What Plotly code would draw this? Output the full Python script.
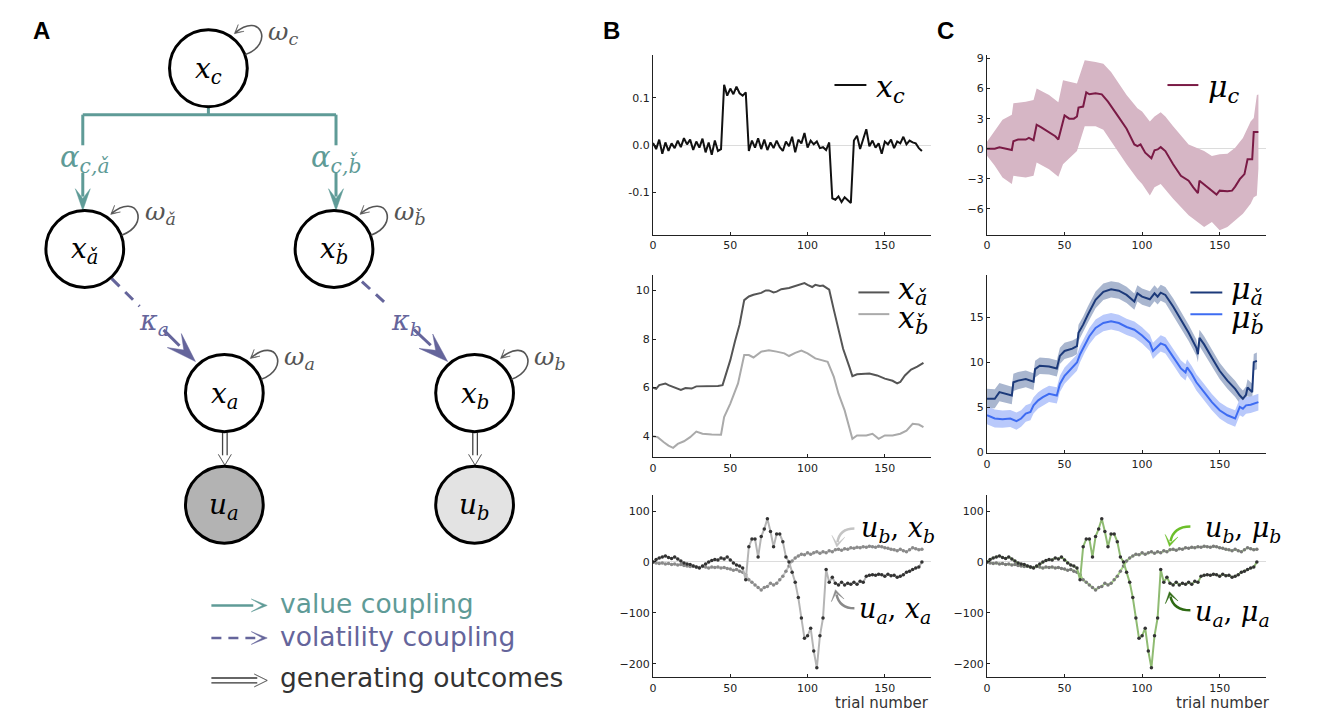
import plotly.graph_objects as go

# page size and body-margin offset of the html page
PAGE_W, PAGE_H = 1320, 722
OFF = 8
FW, FH = PAGE_W - OFF, PAGE_H - OFF

# ---------------- data ----------------
# x_c, sampled every 2 trials (0, 2, ..., 174)
x_c = [0.005, -0.008, 0.012, -0.018, 0.006, -0.012, 0.004, -0.006, 0.010, -0.004,
       0.015, 0.002, 0.012, -0.010, 0.008, -0.005, 0.014, -0.015, 0.006, -0.020,
       0.010, -0.012, -0.008,
       0.128, 0.105, 0.120, 0.108, 0.124, 0.110, 0.105, 0.112,
       -0.012, 0.010, -0.005, 0.015, -0.008, 0.012, -0.010, 0.006, -0.006, 0.010,
       -0.004, -0.012, 0.008, -0.002, 0.018, -0.015, 0.012, 0.004, 0.026, -0.005,
       0.010, 0.002, 0.008, -0.006, -0.004, -0.010, 0.006,
       -0.112, -0.115, -0.108, -0.120, -0.110, -0.116, -0.122,
       0.010, 0.020, -0.008, 0.012, 0.034, -0.002, 0.010, -0.005, 0.004, -0.018,
       0.008, 0.002, 0.012, -0.006, 0.008, 0.004, 0.018, 0.002, 0.010, 0.006,
       0.004, -0.006, -0.012]

t_xa = [0, 2, 4, 6, 8, 10, 12, 15, 18, 21, 25, 28, 30, 34, 38, 42, 45, 48, 50, 53,
        56, 59, 62, 65, 68, 70, 73, 75, 78, 80, 83, 85, 88, 90, 93, 95, 98, 100, 103, 105,
        108, 110, 114, 117, 120, 123, 127, 129, 132, 136, 140, 145, 150, 155, 158, 160, 163, 167, 171, 175]
x_a_hat = [6.0, 5.95, 6.1, 6.12, 6.17, 6.1, 6.05, 5.96, 5.9, 5.98, 5.96, 6.05, 6.05, 6.08, 6.05, 6.07,
           6.1, 6.7, 7.13, 7.9, 8.6, 9.6, 9.75, 9.82, 9.86, 9.9, 10.0, 10.0, 9.92, 9.95, 10.05, 10.06,
           10.1, 10.14, 10.2, 10.23, 10.3, 10.23, 10.14, 10.23, 10.18, 10.2, 10.03, 9.2, 8.37, 7.6,
           6.86, 6.47, 6.55, 6.55, 6.58, 6.5, 6.37, 6.28, 6.17, 6.23, 6.5, 6.74, 6.86, 7.02]

t_xb = [0, 3, 7, 10, 13, 16, 20, 24, 28, 32, 38, 44, 46, 50, 55, 59, 62, 65, 70, 75,
        80, 85, 88, 92, 96, 100, 105, 110, 113, 117, 120, 124, 127, 129, 132, 138, 142, 146, 150, 155,
        160, 164, 168, 172, 175]
x_b_hat = [4.0, 3.96, 3.75, 3.61, 3.52, 3.68, 3.79, 3.96, 4.19, 4.1, 4.07, 4.06, 4.79, 5.34, 6.17,
           7.34, 7.34, 7.24, 7.48, 7.54, 7.48, 7.41, 7.3, 7.43, 7.52, 7.41, 7.2, 7.13, 7.06, 6.44,
           5.75, 5.06, 4.37, 3.89, 4.03, 4.03, 4.1, 3.89, 4.03, 4.03, 4.1, 4.23, 4.51, 4.48, 4.37]

# outcomes u_a, u_b (every 2 trials, 0..174)
u_a = [0, 5, 8, 10, 12, 9, 7, 10, 6, 2,
       -2, -4, -5, -8, -10, -12, -8, -4, 0, 3,
       5, 4, 8, 6, 10, 4, -2, -6, -8, -12,
       -35, 30, 45, 45, 10, 50, 65, 85, 60, 30,
       55, 55, 40, 10, 0, -20, -40, -70, -110, -150,
       -145, -130, -175, -208, -145, -110, -15, -40, -30, -42,
       -45, -40, -45, -42, -44, -40, -44, -38, -40, -28,
       -26, -25, -26, -24, -25, -28, -24, -27, -26, -30,
       -28, -25, -20, -18, -15, -12, -10, 0]
u_b = [0, -2, -3, -2, -4, -3, -5, -4, -6, -5,
       -7, -8, -9, -8, -10, -11, -9, -10, -12, -10,
       -11, -10, -12, -11, -13, -14, -16, -15, -18, -20,
       -25, -35, -40, -45, -50, -55, -50, -48, -42, -45,
       -42, -35, -28, -18, -8, 2, 8, 12, 15, 14,
       18, 15, 18, 20, 17, 20, 18, 22, 20, 24,
       25, 23, 26, 25, 28, 27, 29, 28, 30, 29,
       31, 30, 29, 31, 30, 28, 27, 25, 24, 22,
       25, 22, 20, 24, 28, 26, 24, 25]

t_mc = [0, 5, 8, 12, 16, 17, 20, 25, 27, 30, 32, 35, 40, 44, 46, 48, 50, 53, 56, 58,
        59, 62, 64, 66, 70, 74, 78, 85, 90, 95, 97, 99, 102, 106, 108, 110, 112, 115, 120, 125,
        128, 130, 133, 136, 137, 140, 145, 148, 150, 155, 158, 160, 163, 166, 168, 171, 172, 175]
mu_c = [0, 0, 0.15, 0.03, -0.13, 0.75, 0.92, 0.92, 1.08, 0.85, 2.4, 2.14, 1.68, 1.25, 0.92, 2.24,
        3.32, 3.0, 3.0, 3.22, 4.11, 4.21, 5.63, 5.43, 5.53, 5.43, 4.7, 3.13, 2.0, 0.43, 0.26, 0.43,
        -0.39, -0.95, -0.16, -0.07, 0.16, -0.23, -1.55, -2.7, -3.03, -3.19, -3.85, -4.44, -3.19,
        -3.59, -4.18, -4.57, -4.18, -4.24, -4.18, -3.78, -3.03, -2.53, -1.05, -1.05, 1.68, 1.68]

t_bc = [0, 5, 10, 16, 17, 25, 30, 32, 40, 46, 49, 58, 60, 63, 70, 75, 80, 90, 97, 100,
        105, 108, 112, 115, 120, 130, 140, 145, 150, 155, 160, 165, 170, 172, 174, 175]
mu_c_upper = [0.7, 1.74, 2.9, 3.39, 4.54, 4.7, 4.87, 6.02, 5.36, 4.64, 6.84, 6.51, 7.5, 8.82, 8.65,
              8.49, 7.66, 5.36, 4.05, 3.72, 2.73, 3.22, 3.65, 3.22, 2.24, 0.43, -0.23, -0.72, -0.56,
              -0.49, 0.1, 1.08, 2.73, 3.06, 5.36, 5.4]
mu_c_lower = [-0.7, -1.7, -2.86, -3.52, -2.7, -2.86, -2.7, -1.38, -2.04, -2.8, -1.55, -0.23, 0.76,
              2.24, 2.24, 1.9, 0.76, -1.55, -3.03, -3.52, -4.67, -3.85, -3.52, -4.01, -5.0, -6.64,
              -7.8, -7.3, -8.13, -7.8, -7.14, -6.48, -5.49, -4.84, -4.67, -2.0]

t_ma = [0, 5, 8, 12, 16, 17, 20, 25, 30, 31, 34, 40, 45, 47, 50, 55, 58, 59, 62, 65,
        70, 75, 80, 85, 90, 95, 97, 100, 105, 108, 110, 112, 115, 120, 125, 130, 135, 136, 137, 140,
        145, 150, 155, 160, 163, 165, 167, 168, 171, 172, 174]
mu_a_hat = [5.95, 5.95, 6.68, 6.5, 6.31, 7.77, 7.96, 8.14, 7.85, 9.23, 9.6, 9.53, 9.31, 10.7, 11.24,
            11.5, 11.79, 13.25, 14.16, 15.26, 16.9, 17.8, 18.07, 17.92, 17.45, 16.72, 17.63, 17.26,
            16.97, 17.63, 17.26, 17.7, 17.45, 16.17, 14.7, 13.25, 11.6, 10.88, 12.7, 11.97, 10.5,
            9.05, 7.96, 7.04, 6.31, 5.95, 6.39, 7.2, 6.68, 10.0, 10.15]
sd_a_hat = [1.1, 1.05, 1.0, 1.0, 0.98, 0.95, 0.95, 0.93, 0.93, 0.92, 0.92, 0.9, 0.9, 0.9, 0.9, 0.9,
            0.9, 0.9, 0.9, 0.9, 0.92, 0.92, 0.9, 0.9, 0.9, 0.9, 0.9, 0.9, 0.88, 0.88, 0.88, 0.88,
            0.88, 0.9, 0.9, 0.9, 0.9, 0.9, 0.9, 0.9, 0.9, 0.9, 0.9, 0.9, 0.9, 0.92, 0.92, 0.92,
            0.92, 0.92, 0.92]

t_mb = [0, 5, 10, 15, 19, 22, 25, 28, 30, 33, 36, 40, 45, 47, 50, 55, 58, 60, 63, 66,
        70, 75, 80, 85, 90, 95, 100, 105, 107, 110, 112, 115, 120, 125, 128, 129, 132, 135, 140, 145,
        150, 155, 160, 162, 163, 165, 167, 170, 175]
mu_b_hat = [4.12, 3.76, 3.69, 3.76, 3.47, 3.76, 4.31, 4.49, 5.22, 5.77, 6.13, 6.5, 6.31, 7.59, 8.5,
            9.42, 9.96, 10.88, 11.97, 12.88, 13.8, 14.34, 14.53, 14.34, 13.9, 13.6, 12.96, 12.15,
            11.24, 11.79, 12.08, 11.86, 10.62, 9.31, 8.87, 9.42, 8.69, 7.77, 6.68, 5.58, 4.67, 4.12,
            3.76, 4.67, 5.04, 4.85, 5.22, 5.29, 5.58]
sd_b_hat = [1.0, 1.0, 0.95, 0.95, 0.95, 0.92, 0.92, 0.92, 0.9, 0.9, 0.9, 0.9, 0.9, 0.9, 0.9, 0.9,
            0.9, 0.9, 0.9, 0.9, 0.92, 0.92, 0.92, 0.92, 0.9, 0.9, 0.9, 0.9, 0.9, 0.9, 0.9, 0.9,
            0.9, 0.9, 0.9, 0.9, 0.9, 0.9, 0.9, 0.9, 0.9, 0.9, 0.92, 0.92, 0.92, 0.92, 0.92, 0.92, 0.92]

x_ticks = [0, 50, 100, 150]
yt_xc = [-0.1, 0.0, 0.1]
yt_xc_text = ["-0.1", "0.0", "0.1"]
yt_xhat = [4, 6, 8, 10]
yt_u = [-200, -100, 0, 100]
yt_muc = [-6, -3, 0, 3, 6, 9]
yt_muhat = [0, 5, 10, 15]

t_xc = list(range(0, 2 * len(x_c), 2))
t_u = list(range(0, 2 * len(u_a), 2))

# ---------------- colours / fonts ----------------
TEAL = "#5f9b97"
PURP = "#65659b"
LOOP = "#555555"
MAROON = "#7a1a45"
NAVY = "#1c3a7a"
BLUE = "#3e6cf2"
MATH = "DejaVu Serif"
SANS = "DejaVu Sans"

fig = go.Figure()

def px2x(v):
    return (v - OFF) / FW

def px2y(v):
    return 1 - (v - OFF) / FH

# ---------- traces ----------
fig.add_trace(go.Scatter(x=t_xc, y=x_c, mode="lines", line=dict(color="#111", width=2),
                         xaxis="x", yaxis="y"))
fig.add_trace(go.Scatter(x=t_xa, y=x_a_hat, mode="lines", line=dict(color="#555", width=2),
                         xaxis="x2", yaxis="y2"))
fig.add_trace(go.Scatter(x=t_xb, y=x_b_hat, mode="lines", line=dict(color="#aaa", width=2),
                         xaxis="x2", yaxis="y2"))
fig.add_trace(go.Scatter(x=t_u, y=u_b, mode="lines+markers", line=dict(color="#c8c8c8", width=2),
                         marker=dict(color="#8a8a8a", size=3.5), xaxis="x3", yaxis="y3"))
fig.add_trace(go.Scatter(x=t_u, y=u_a, mode="lines+markers", line=dict(color="#b5b5b5", width=2),
                         marker=dict(color="#333", size=3.5), xaxis="x3", yaxis="y3"))

# C top
fig.add_trace(go.Scatter(x=t_bc + t_bc[::-1], y=mu_c_upper + mu_c_lower[::-1], fill="toself",
                         fillcolor="#d6b6c5", line=dict(width=0), mode="lines",
                         xaxis="x4", yaxis="y4"))
fig.add_trace(go.Scatter(x=t_mc, y=mu_c, mode="lines", line=dict(color=MAROON, width=2),
                         xaxis="x4", yaxis="y4"))

# C middle
ua_hi = [m + s for m, s in zip(mu_a_hat, sd_a_hat)]
ua_lo = [m - s for m, s in zip(mu_a_hat, sd_a_hat)]
ub_hi = [m + s for m, s in zip(mu_b_hat, sd_b_hat)]
ub_lo = [m - s for m, s in zip(mu_b_hat, sd_b_hat)]
fig.add_trace(go.Scatter(x=t_ma + t_ma[::-1], y=ua_hi + ua_lo[::-1], fill="toself",
                         fillcolor="#a9b6cf", line=dict(width=0), mode="lines",
                         xaxis="x5", yaxis="y5"))
fig.add_trace(go.Scatter(x=t_mb + t_mb[::-1], y=ub_hi + ub_lo[::-1], fill="toself",
                         fillcolor="#b9c9fb", line=dict(width=0), mode="lines",
                         xaxis="x5", yaxis="y5"))
fig.add_trace(go.Scatter(x=t_ma, y=mu_a_hat, mode="lines", line=dict(color=NAVY, width=2),
                         xaxis="x5", yaxis="y5"))
fig.add_trace(go.Scatter(x=t_mb, y=mu_b_hat, mode="lines", line=dict(color=BLUE, width=2),
                         xaxis="x5", yaxis="y5"))

# C bottom
fig.add_trace(go.Scatter(x=t_u, y=u_b, mode="lines+markers", line=dict(color="#a9d88a", width=2),
                         marker=dict(color="#7a7a7a", size=3.5), xaxis="x6", yaxis="y6"))
fig.add_trace(go.Scatter(x=t_u, y=u_a, mode="lines+markers", line=dict(color="#8fbb72", width=2),
                         marker=dict(color="#333", size=3.5), xaxis="x6", yaxis="y6"))

# overlay pixel axis (decorations)
fig.add_trace(go.Scatter(x=[None], y=[None], xaxis="x7", yaxis="y7", hoverinfo="skip"))

# ---------- axes ----------
common = dict(showline=True, linecolor="#222", linewidth=1, ticks="inside", ticklen=3,
              tickcolor="#222", showgrid=False, zeroline=False, fixedrange=True,
              tickfont=dict(family=SANS, size=11, color="#222"))

Bx = [px2x(651), px2x(930)]
Cx = [px2x(986), px2x(1266)]
top_d = [px2y(235), px2y(53)]
midB_d = [px2y(460), px2y(275)]
midC_d = [px2y(456), px2y(275)]
bot_d = [px2y(683), px2y(498)]

layout_axes = {}
for i, (xd, yd) in enumerate([(Bx, top_d), (Bx, midB_d), (Bx, bot_d),
                              (Cx, top_d), (Cx, midC_d), (Cx, bot_d)], start=1):
    xs = "" if i == 1 else str(i)
    layout_axes["xaxis" + xs] = dict(common, domain=xd, range=[0, 180], tickvals=x_ticks,
                                     anchor="y" + xs)
    layout_axes["yaxis" + xs] = dict(common, domain=yd, anchor="x" + xs)

zl = dict(zeroline=True, zerolinecolor="#dcdcdc", zerolinewidth=1)
layout_axes["yaxis"].update(range=[-0.19, 0.19], tickvals=yt_xc, ticktext=yt_xc_text, **zl)
layout_axes["yaxis2"].update(range=[3.13, 10.65], tickvals=yt_xhat)
layout_axes["yaxis3"].update(range=[-227, 132], tickvals=yt_u, **zl)
layout_axes["yaxis4"].update(range=[-8.62, 9.31], tickvals=yt_muc, **zl)
layout_axes["yaxis5"].update(range=[-0.1, 19.7], tickvals=yt_muhat, **zl)
layout_axes["yaxis6"].update(range=[-227, 132], tickvals=yt_u, **zl)
layout_axes["xaxis7"] = dict(domain=[0, 1], range=[OFF, OFF + FW], visible=False,
                             fixedrange=True, anchor="y7")
layout_axes["yaxis7"] = dict(domain=[0, 1], range=[OFF + FH, OFF], visible=False,
                             fixedrange=True, anchor="x7")

# ---------- decoration helpers (page-pixel coordinates on overlay axis) ----------
shapes = []
annos = []

def f(p):
    return f"{p[0]:.2f},{p[1]:.2f}"

def seg(p0, p1, color, width, dash="solid"):
    shapes.append(dict(type="line", xref="x7", yref="y7", x0=p0[0], y0=p0[1], x1=p1[0], y1=p1[1],
                       line=dict(color=color, width=width, dash=dash)))

def head(tip, frm, L, Wd, notch, color):
    dx, dy = tip[0] - frm[0], tip[1] - frm[1]
    n = (dx * dx + dy * dy) ** 0.5
    ux, uy = dx / n, dy / n
    px_, py_ = -uy, ux
    bx, by = tip[0] - L * ux, tip[1] - L * uy
    a = (bx + Wd * px_, by + Wd * py_)
    b = (tip[0] - notch * L * ux, tip[1] - notch * L * uy)
    c = (bx - Wd * px_, by - Wd * py_)
    shapes.append(dict(type="path", xref="x7", yref="y7",
                       path=f"M {f(tip)} L {f(a)} L {f(b)} L {f(c)} Z",
                       fillcolor=color, line=dict(color=color, width=0.5)))

def circle(c, r, fill):
    shapes.append(dict(type="circle", xref="x7", yref="y7", x0=c[0] - r, x1=c[0] + r,
                       y0=c[1] - r, y1=c[1] + r, fillcolor=fill,
                       line=dict(color="black", width=3)))

def text(x, y, s, size, color="black", family=MATH, xanchor="center"):
    annos.append(dict(xref="x7", yref="y7", x=x, y=y, text=s, showarrow=False,
                      xanchor=xanchor, yanchor="middle",
                      font=dict(family=family, size=size, color=color)))

def loop(c, label):
    cx, cy = c
    shapes.append(dict(type="path", xref="x7", yref="y7",
                       path=f"M {cx+37},{cy-14} C {cx+66},{cy-24} {cx+53},{cy-58} {cx+27},{cy-36}",
                       line=dict(color=LOOP, width=1.6), fillcolor="rgba(0,0,0,0)"))
    head((cx + 26, cy - 35), (cx + 40, cy - 47), 9, 4.5, 0.2, LOOP)
    text(cx + 58, cy - 36, label, 25, LOOP, xanchor="left")

def curved(p0, ctrl, p1, color):
    shapes.append(dict(type="path", xref="x7", yref="y7",
                       path=f"M {f(p0)} Q {f(ctrl)} {f(p1)}",
                       line=dict(color=color, width=2.5), fillcolor="rgba(0,0,0,0)"))
    head((p1[0] + (p1[0] - ctrl[0]) * 0.35, p1[1] + (p1[1] - ctrl[1]) * 0.35), ctrl, 11, 6.5, 0.3, color)

# ---------- panel A diagram ----------
R = 39
nodes = {"xc": (205, 66), "xah": (81, 249), "xbh": (331, 249), "xa": (221, 395),
         "xb": (472, 395), "ua": (221, 508), "ub": (472, 508)}

seg((205, 104), (205, 113), TEAL, 3)
seg((79, 113), (333, 113), TEAL, 3)
for xx in (79, 333):
    seg((xx, 113), (xx, 144), TEAL, 3)
    seg((xx, 172), (xx, 196), TEAL, 3)
    head((xx, 210), (xx, 180), 22, 7.5, 0.55, TEAL)

seg((108, 279), (136, 307), PURP, 3, "11px,8px")
seg((160, 331), (176, 347), PURP, 3)
head((192, 363), (108, 279), 30, 10, 0.55, PURP)
seg((359, 282), (386, 307), PURP, 3, "11px,8px")
seg((411, 330.5), (428, 346.5), PURP, 3)
head((445, 363), (359, 282), 30, 10, 0.55, PURP)

for xx in (221.5, 472.5):
    seg((xx - 2.3, 435), (xx - 2.3, 458), "#444", 1.3)
    seg((xx + 2.3, 435), (xx + 2.3, 458), "#444", 1.3)
    head((xx, 468), (xx, 455), 11, 6.5, 0.0, "#333")

circle(nodes["xc"], R, "white")
circle(nodes["xah"], R, "white")
circle(nodes["xbh"], R, "white")
circle(nodes["xa"], R, "white")
circle(nodes["xb"], R, "white")
circle(nodes["ua"], R, "#b3b3b3")
circle(nodes["ub"], R, "#e3e3e3")

loop(nodes["xc"], "<i>ω</i><sub><i>c</i></sub>")
loop(nodes["xah"], "<i>ω</i><sub><i>ǎ</i></sub>")
loop(nodes["xbh"], "<i>ω</i><sub><i>b̌</i></sub>")
loop(nodes["xa"], "<i>ω</i><sub><i>a</i></sub>")
loop(nodes["xb"], "<i>ω</i><sub><i>b</i></sub>")

NS = 28
text(205, 68, "<i>x</i><sub><i>c</i></sub>", NS)
text(81, 251, "<i>x</i><sub><i>ǎ</i></sub>", NS)
text(331, 251, "<i>x</i><sub><i>b̌</i></sub>", NS)
text(221, 397, "<i>x</i><sub><i>a</i></sub>", NS)
text(472, 397, "<i>x</i><sub><i>b</i></sub>", NS)
text(221, 510, "<i>u</i><sub><i>a</i></sub>", NS)
text(472, 510, "<i>u</i><sub><i>b</i></sub>", NS)

text(81, 158, "<i>α</i><sub><i>c,ǎ</i></sub>", 29, TEAL)
text(333, 158, "<i>α</i><sub><i>c,b̌</i></sub>", 29, TEAL)
text(150, 323, "<i>κ</i><sub><i>a</i></sub>", 27, PURP)
text(404, 323, "<i>κ</i><sub><i>b</i></sub>", 27, PURP)

# legend of panel A
LS = 26.5
seg((208, 610), (250, 610), TEAL, 2.5)
head((264, 610), (240, 610), 16, 6.5, 0.3, TEAL)
text(275, 608, "value coupling", LS, TEAL, SANS, "left")
seg((208, 643), (252, 643), PURP, 2.5, "10px,7px")
head((264, 643), (240, 643), 16, 6.5, 0.3, PURP)
text(275, 641, "volatility coupling", LS, PURP, SANS, "left")
seg((208, 683.5), (254, 683.5), "#333", 1.4)
seg((208, 688.5), (254, 688.5), "#333", 1.4)
head((264, 686), (240, 686), 13, 6.5, 0.0, "#333")
text(275, 683, "generating outcomes", LS, "#333", SANS, "left")

# panel letters
for lx, ly, s in [(38, 28, "A"), (609, 28, "B"), (944, 28, "C")]:
    text(lx, ly, f"<b>{s}</b>", 24, "black", "Liberation Sans")

# panel legends (B, C)
PS = 30
seg((833, 83), (865, 83), "#111", 2)
text(873, 86, "<i>x</i><sub><i>c</i></sub>", PS, "black", MATH, "left")
seg((857, 293), (888, 293), "#555", 2)
text(895, 291, "<i>x</i><sub><i>ǎ</i></sub>", PS, "black", MATH, "left")
seg((857, 315), (888, 315), "#aaa", 2)
text(895, 320, "<i>x</i><sub><i>b̌</i></sub>", PS, "black", MATH, "left")

seg((1167, 83), (1198, 83), MAROON, 2)
text(1206, 86, "<i>μ</i><sub><i>c</i></sub>", PS, "black", MATH, "left")
seg((1190, 293), (1222, 293), NAVY, 2)
text(1229, 291, "<i>μ</i><sub><i>ǎ</i></sub>", PS, "black", MATH, "left")
seg((1190, 315), (1222, 315), BLUE, 2)
text(1229, 320, "<i>μ</i><sub><i>b̌</i></sub>", PS, "black", MATH, "left")

# bottom panel labels with curved arrows
BS = 27
curved((853, 532), (838, 532), (836, 546), "#c4c4c4")
text(858, 533, "<i>u</i><sub><i>b</i></sub>, <i>x</i><sub><i>b</i></sub>", BS, "black", MATH, "left")
curved((853, 613), (838, 613), (835, 599), "#8a8a8a")
text(856, 615, "<i>u</i><sub><i>a</i></sub>, <i>x</i><sub><i>a</i></sub>", BS, "black", MATH, "left")
curved((1190, 530), (1173, 530), (1170, 545), "#6cbf2a")
text(1203, 533, "<i>u</i><sub><i>b</i></sub>, <i>μ</i><sub><i>b</i></sub>", BS, "black", MATH, "left")
curved((1190, 615), (1173, 615), (1170, 601), "#2f6a14")
text(1193, 618, "<i>u</i><sub><i>a</i></sub>, <i>μ</i><sub><i>a</i></sub>", BS, "black", MATH, "left")

for xr in (930, 1272):
    annos.append(dict(xref="x7", yref="y7", x=xr, y=709, text="trial number", showarrow=False,
                      xanchor="right", yanchor="middle",
                      font=dict(family=SANS, size=15, color="#333")))

fig.update_layout(width=FW, height=FH, margin=dict(l=0, r=0, t=0, b=0),
                  paper_bgcolor="white", plot_bgcolor="rgba(0,0,0,0)", showlegend=False,
                  shapes=shapes, annotations=annos, **layout_axes)

fig.write_html("out.html")
